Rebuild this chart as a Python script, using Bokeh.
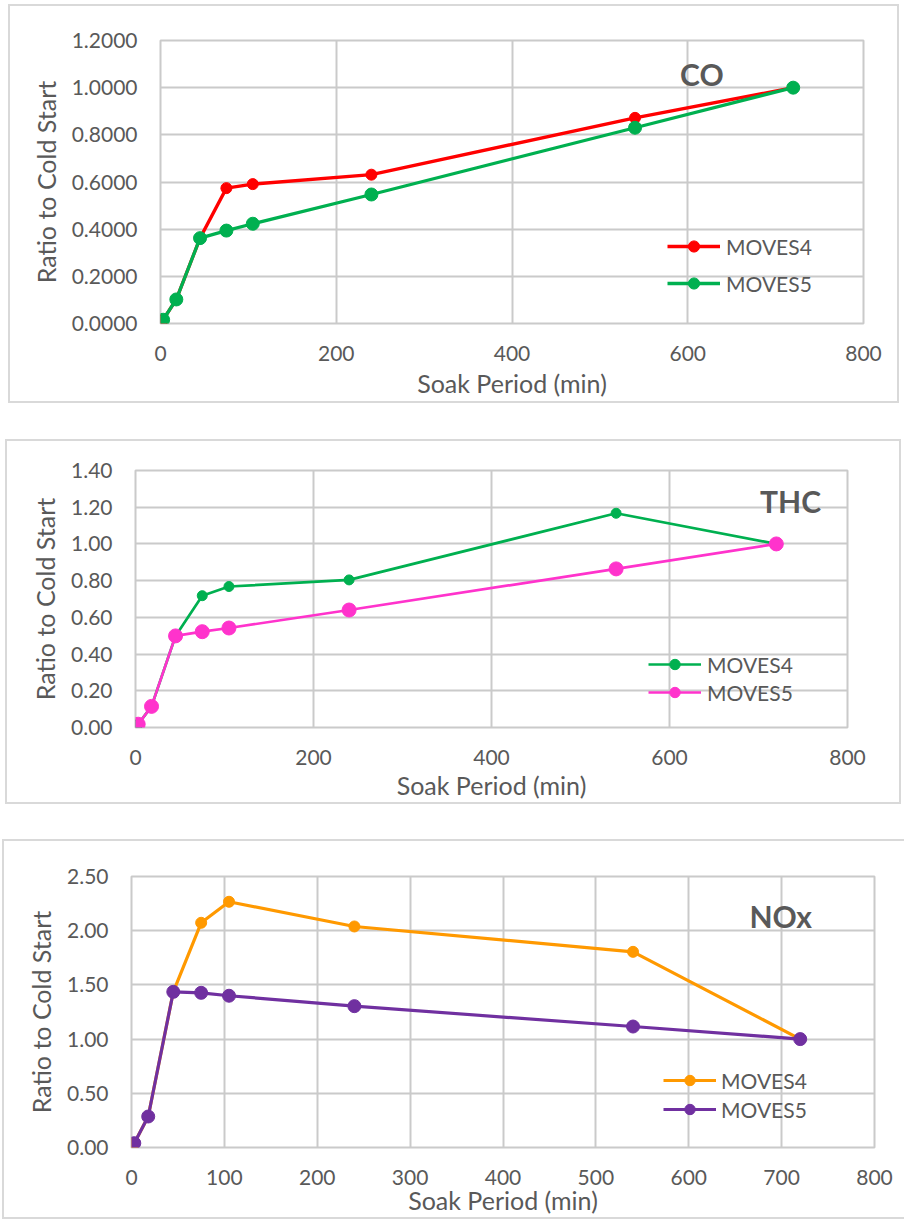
from bokeh.plotting import figure
from bokeh.layouts import column
from bokeh.models import Range1d, FixedTicker, NumeralTickFormatter, Label, Legend, LegendItem
from bokeh.embed import file_html
from bokeh.resources import INLINE

# ---------------- data ----------------
soak_min = [3, 18, 45, 75, 105, 240, 540, 720]

co_moves4 = [0.016, 0.102, 0.362, 0.574, 0.591, 0.631, 0.872, 1.000]
co_moves5 = [0.016, 0.102, 0.362, 0.394, 0.423, 0.547, 0.830, 1.000]

thc_moves4 = [0.018, 0.115, 0.499, 0.718, 0.768, 0.804, 1.167, 1.000]
thc_moves5 = [0.018, 0.115, 0.499, 0.522, 0.542, 0.640, 0.864, 1.000]

nox_moves4 = [0.040, 0.286, 1.436, 2.073, 2.267, 2.039, 1.805, 1.000]
nox_moves5 = [0.040, 0.286, 1.436, 1.427, 1.400, 1.304, 1.116, 1.000]

x_ticks_co = [0, 200, 400, 600, 800]
y_ticks_co = [0.0, 0.2, 0.4, 0.6, 0.8, 1.0, 1.2]
x_ticks_thc = [0, 200, 400, 600, 800]
y_ticks_thc = [0.0, 0.2, 0.4, 0.6, 0.8, 1.0, 1.2, 1.4]
x_ticks_nox = [0, 100, 200, 300, 400, 500, 600, 700, 800]
y_ticks_nox = [0.0, 0.5, 1.0, 1.5, 2.0, 2.5]

series_names = ["MOVES4", "MOVES5"]
x_title = "Soak Period (min)"
y_title = "Ratio to Cold Start"

FONT = "Lato"
TXT = "#595959"
GRID = "#cacaca"


def make_panel(width, height, margin, borders, border_css, x_ticks, y_ticks, fmt,
               ys, colors, lws, sizes, title, title_xy, leg_loc, leg_h, leg_sp,
               leg_standoff, xlab_standoff):
    top, right, bottom, left = borders
    p = figure(width=width, height=height, output_backend="svg",
               toolbar_location=None, margin=margin,
               x_range=Range1d(x_ticks[0], x_ticks[-1]),
               y_range=Range1d(y_ticks[0], y_ticks[-1]),
               min_border_top=top, min_border_right=right,
               min_border_bottom=bottom, min_border_left=left)
    p.frame_align = False
    p.styles = border_css
    p.outline_line_color = GRID
    p.outline_line_width = 2
    p.xgrid.ticker = FixedTicker(ticks=x_ticks)
    p.ygrid.ticker = FixedTicker(ticks=y_ticks)
    for g in (p.xgrid[0], p.ygrid[0]):
        g.grid_line_color = GRID
        g.grid_line_width = 2
    p.xaxis.ticker = FixedTicker(ticks=x_ticks)
    p.yaxis.ticker = FixedTicker(ticks=y_ticks)
    p.yaxis.formatter = NumeralTickFormatter(format=fmt)
    for ax in (p.xaxis[0], p.yaxis[0]):
        ax.axis_line_color = None
        ax.major_tick_line_color = None
        ax.minor_tick_line_color = None
        ax.major_label_text_font = FONT
        ax.major_label_text_font_size = "21px"
        ax.major_label_text_color = TXT
        ax.axis_label_text_font = FONT
        ax.axis_label_text_font_size = "25px"
        ax.axis_label_text_color = TXT
        ax.axis_label_text_font_style = "normal"
    p.xaxis.axis_label = x_title
    p.yaxis.axis_label = y_title
    p.xaxis.major_label_standoff = 16
    p.yaxis.major_label_standoff = 17
    p.xaxis.axis_label_standoff = xlab_standoff
    p.yaxis.axis_label_standoff = 8

    items = []
    for name, y, c, lw, s in zip(series_names, ys, colors, lws, sizes):
        ln = p.line(soak_min, y, line_color=c, line_width=lw)
        sc = p.scatter(soak_min, y, size=s, fill_color=c, line_color=c)
        items.append(LegendItem(label=name, renderers=[ln, sc]))
    leg = Legend(items=items, location=leg_loc, glyph_width=53,
                 glyph_height=leg_h, label_height=leg_h, spacing=leg_sp,
                 padding=0, margin=0, label_standoff=leg_standoff,
                 border_line_color=None, background_fill_alpha=0,
                 label_text_font=FONT, label_text_font_size="21px",
                 label_text_color=TXT)
    p.add_layout(leg)
    p.add_layout(Label(x=title_xy[0], y=title_xy[1], text=title,
                       text_align="center", text_baseline="alphabetic",
                       text_font=FONT, text_font_style="bold",
                       text_font_size="30px", text_color=TXT))
    return p


BORDER = "2px solid #d9d9d9"
full_border = {"border": BORDER}
open_right = {"border-top": BORDER, "border-bottom": BORDER,
              "border-left": BORDER, "border-right": "none"}

p1 = make_panel(891, 399, (4, 0, 0, 8), (34, 38, 82, 150), full_border,
                x_ticks_co, y_ticks_co, "0.0000",
                [co_moves4, co_moves5], ["#ff0000", "#00b050"], [3.3, 3.3], [11, 13],
                "CO", (616, 1.060), (507, 26), 28, 9, 6, 4)
p2 = make_panel(896, 365, (36, 0, 0, 5), (29, 56, 79, 128), full_border,
                x_ticks_thc, y_ticks_thc, "0.00",
                [thc_moves4, thc_moves5], ["#00b050", "#ff33cc"], [2.7, 2.7], [10, 14],
                "THC", (736, 1.235), (513, 22), 26, 2, 6, 2)
p3 = make_panel(902, 380, (35, 0, 0, 2), (35, 32, 74, 127), open_right,
                x_ticks_nox, y_ticks_nox, "0.00",
                [nox_moves4, nox_moves5], ["#ff9900", "#7030a0"], [3.2, 3.2], [11, 13],
                "NOx", (699, 2.139), (532, 25), 26, 3, 5, -3)

layout = column(p1, p2, p3, spacing=0)
open("out.html", "w").write(file_html(layout, INLINE))
